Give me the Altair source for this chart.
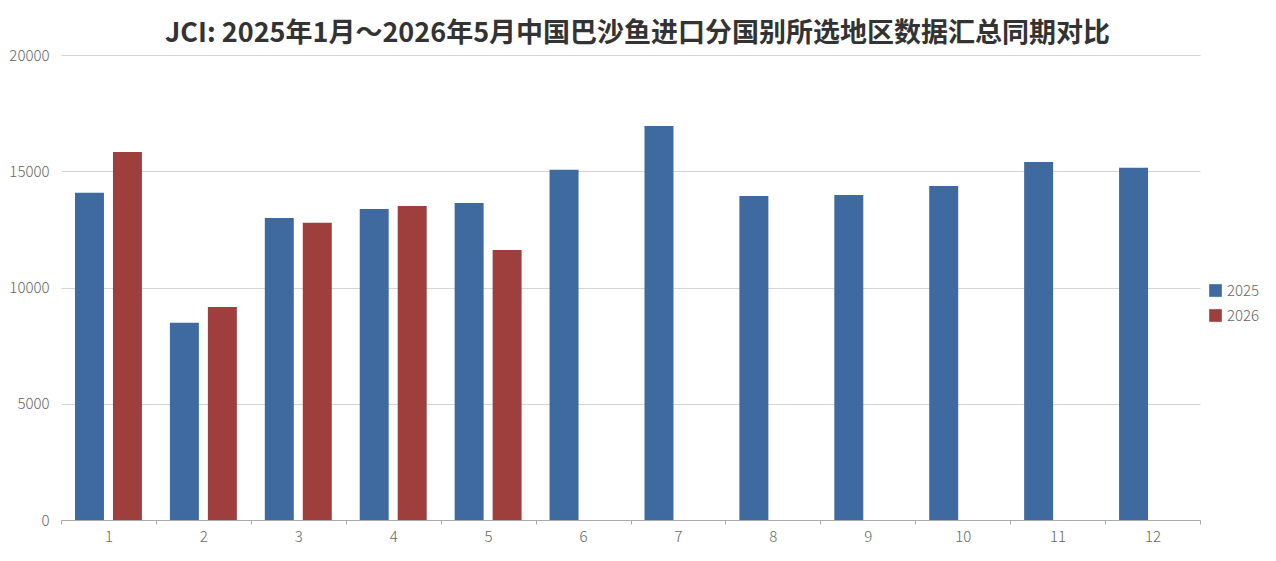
import altair as alt
import pandas as pd

months = [str(m) for m in range(1, 13)]
values_2025 = [14080, 8480, 12990, 13380, 13630, 15060, 16950, 13940, 13980, 14370, 15400, 15150]
values_2026 = [15830, 9160, 12780, 13510, 11610]
series = ["2025", "2026"]
colors = ["#3e6a9f", "#9e3f3e"]
y_ticks = [0, 5000, 10000, 15000, 20000]
title = "JCI: 2025年1月～2026年5月中国巴沙鱼进口分国别所选地区数据汇总同期对比"

rows = []
for m, v in zip(months, values_2025):
    rows.append({"month": m, "series": "2025", "value": v})
for m, v in zip(months, values_2026):
    rows.append({"month": m, "series": "2026", "value": v})
df = pd.DataFrame(rows)

font = "Noto Sans CJK SC"

chart = alt.Chart(df).mark_bar().encode(
    x=alt.X("month:N", sort=months, title=None,
            scale=alt.Scale(paddingInner=0, paddingOuter=0),
            axis=alt.Axis(labelAngle=0, tickBand="extent", domainColor="#aaaaaa",
                          tickColor="#aaaaaa", tickSize=4, labelPadding=5,
                          labelColor="#666666", labelFontSize=15, labelFont=font,
                          labelFontWeight=300, grid=False)),
    xOffset=alt.XOffset("series:N", sort=series,
                        scale=alt.Scale(paddingInner=0.237, paddingOuter=0.368)),
    y=alt.Y("value:Q", title=None,
            scale=alt.Scale(domain=[0, 20000], nice=False),
            axis=alt.Axis(values=y_ticks, format="d", domain=False, ticks=False, labelPadding=12,
                          gridColor="#d4d4d4", labelColor="#666666", labelFontSize=15,
                          labelFont=font, labelFontWeight=300)),
    color=alt.Color("series:N", sort=series,
                    scale=alt.Scale(domain=series, range=colors),
                    legend=alt.Legend(title=None, orient="none", legendX=1147, legendY=228,
                                      symbolType="square", symbolSize=160,
                                      labelFontSize=15, labelColor="#666666",
                                      labelFont=font, labelFontWeight=300,
                                      rowPadding=9, symbolStrokeWidth=0)),
).properties(
    width=1139,
    height=465,
    title=alt.TitleParams(title, font=font, fontSize=27, fontWeight="bold",
                          color="#333333", anchor="middle", offset=0, dx=7),
    autosize=alt.AutoSizeParams(type="none"),
    padding={"left": 53, "top": 47, "right": 60, "bottom": 30},
).configure_view(stroke=None)

chart.save("out.html", embed_options={"renderer": "svg", "actions": False})
